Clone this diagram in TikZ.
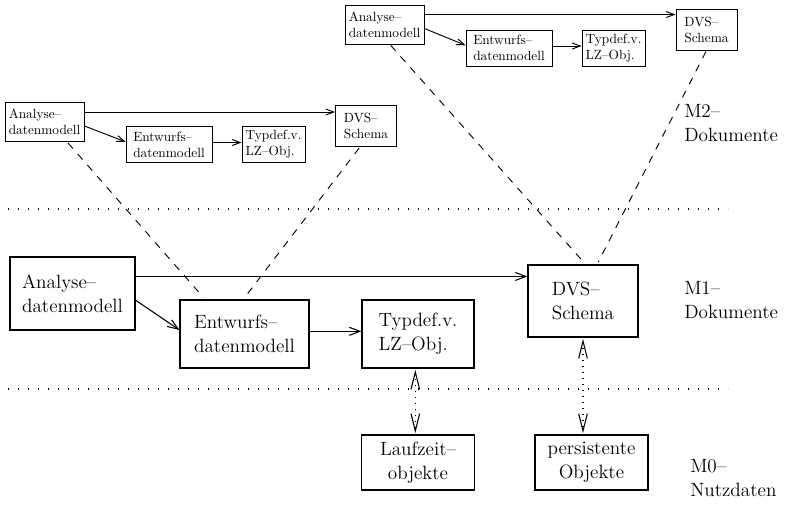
\documentclass[tikz,border=0pt]{standalone}
\usepackage{tikz}
\usetikzlibrary{arrows.meta,calc}
\tikzset{
  bigbox/.style={draw,line width=0.8pt,align=left,font=\Large,inner sep=2pt},
  smallbox/.style={draw,line width=0.7pt,align=left,font=\normalsize,inner sep=1pt},
  arr/.style={line width=0.8pt,-{Straight Barb[length=8pt,width=6pt]}},
  sarr/.style={line width=0.7pt,-{Straight Barb[length=6pt,width=4.5pt]}},
  link/.style={line width=0.7pt,dash pattern=on 5.5pt off 5.5pt,shorten <=1pt,shorten >=2pt},
  level/.style={line width=0.8pt,dash pattern=on 0.9pt off 6.6pt},
  dotarr/.style={line width=0.8pt,dash pattern=on 0.9pt off 3.6pt,
    {Straight Barb[length=13pt,width=6.5pt]}-{Straight Barb[length=13pt,width=6.5pt]}},
  lbl/.style={align=left,font=\Large,anchor=west,inner sep=0pt}
}
\begin{document}
\begin{tikzpicture}[x=0.75pt,y=-0.75pt]
\useasboundingbox (0,0) rectangle (785,505);

% M2 (right)
\node[smallbox,minimum width=59.25pt,minimum height=29.25pt] (sana2) at (384.5,24.5) {Analyse--\\datenmodell};
\node[smallbox,minimum width=64.5pt,minimum height=27pt] (sent2) at (509,48) {Entwurfs--\\datenmodell};
\node[smallbox,minimum width=47.25pt,minimum height=27pt] (styp2) at (613.5,48) {Typdef.v.\\LZ--Obj.};
\node[smallbox,minimum width=45.75pt,minimum height=30.75pt] (sdvs2) at (706.5,29.5) {DVS--\\Schema};
\draw[sarr] ([yshift=-7.5pt]sana2.north east) -- ([yshift=-7.5pt]sana2.north east -| sdvs2.west);
\draw[sarr] ([yshift=-3pt]sana2.east) -- ([yshift=2pt]sent2.west);
\draw[sarr] ([yshift=1.5pt]sent2.east) -- ([yshift=1.5pt]styp2.west);

% M2 (left)
\node[smallbox,minimum width=59.25pt,minimum height=29.25pt] (sana1) at (44.5,122) {Analyse--\\datenmodell};
\node[smallbox,minimum width=64.5pt,minimum height=27pt] (sent1) at (169,144.5) {Entwurfs--\\datenmodell};
\node[smallbox,minimum width=47.25pt,minimum height=27pt] (styp1) at (273.5,144.5) {Typdef.v.\\LZ--Obj.};
\node[smallbox,minimum width=45.75pt,minimum height=30.75pt] (sdvs1) at (366,126) {DVS--\\Schema};
\draw[sarr] ([yshift=-7.5pt]sana1.north east) -- ([yshift=-7.5pt]sana1.north east -| sdvs1.west);
\draw[sarr] ([yshift=-3pt]sana1.east) -- ([yshift=2pt]sent1.west);
\draw[sarr] ([yshift=1.5pt]sent1.east) -- ([yshift=1.5pt]styp1.west);

% M1
\node[bigbox,minimum width=93.75pt,minimum height=54.75pt] (ana) at (72.5,293.5) {Analyse--\\datenmodell};
\node[bigbox,minimum width=96.75pt,minimum height=51pt] (ent) at (244.5,334) {Entwurfs--\\datenmodell};
\node[bigbox,minimum width=84pt,minimum height=51pt] (typ) at (418,334) {Typdef.v.\\LZ--Obj.};
\node[bigbox,minimum width=82.5pt,minimum height=54pt] (dvs) at (583,301) {DVS--\\Schema};
\draw[arr] ([yshift=-15pt]ana.north east) -- ([yshift=-15pt]ana.north east -| dvs.west);
\draw[arr] ([yshift=-5pt]ana.east) -- ([yshift=3pt]ent.west);
\draw[arr] ([yshift=2pt]ent.east) -- ([yshift=2pt]typ.west);

% M0
\node[bigbox,align=center,minimum width=84.75pt,minimum height=41.25pt] (lauf) at (418,462.5) {Laufzeit--\\objekte};
\node[bigbox,align=center,minimum width=84.75pt,minimum height=41.25pt] (pers) at (591.5,462.5) {persistente\\Objekte};

% level lines
\coordinate (l1a) at (8,209); \coordinate (l1b) at (728,209);
\coordinate (l2a) at (8,389); \coordinate (l2b) at (728,389);
\draw[level] (l1a) -- (l1b);
\draw[level] (l2a) -- (l2b);

% instance links
\draw[link] ([xshift=17pt]sana1.south) -- ([xshift=-29.5pt]ent.north);
\draw[link] ([xshift=-4.5pt]sdvs1.south) -- ([xshift=-1pt]ent.north);
\draw[link] ([xshift=4pt]sana2.south) -- ([xshift=2pt]dvs.north);
\draw[link] (sdvs2.south) -- ([xshift=10.5pt]dvs.north);

\draw[dotarr] ([xshift=-2pt,yshift=-1pt]typ.south) -- ([xshift=-2pt,yshift=1pt]lauf.north);
\draw[dotarr] ([yshift=-1pt]dvs.south) -- ([yshift=1pt]dvs.south |- pers.north);

% level labels
\node[lbl] (m2) at (684,123) {M2--\\Dokumente};
\node[lbl] (m1) at (684,300) {M1--\\Dokumente};
\node[lbl] (m0) at (690,478) {M0--\\Nutzdaten};
\end{tikzpicture}
\end{document}
